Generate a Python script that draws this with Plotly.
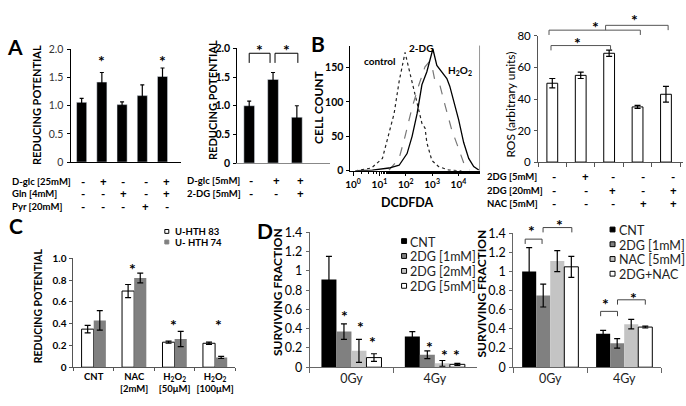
import plotly.graph_objects as go

W, H = 686, 406
FONT = "Lato"

# ---------------- DATA ----------------
# Panel A (left): reducing potential
a1_cats = ["Control", "D-glc", "Gln", "Pyr", "D-glc+Gln"]
a1_values = [1.06, 1.42, 1.02, 1.18, 1.52]
a1_errors = [0.07, 0.17, 0.05, 0.19, 0.15]
a1_rows = ["D-glc [25mM]", "Gln [4mM]", "Pyr [20mM]"]
a1_signs = [["-", "+", "-", "-", "+"],
            ["-", "-", "+", "-", "+"],
            ["-", "-", "-", "+", "-"]]

# Panel A (right)
a2_cats = ["Control", "D-glc", "D-glc+2-DG"]
a2_values = [1.00, 1.46, 0.80]
a2_errors = [0.08, 0.12, 0.20]
a2_rows = ["D-glc [5mM]", "2-DG [5mM]"]
a2_signs = [["-", "+", "+"],
            ["-", "-", "+"]]

# Panel B histogram (DCFDA intensity vs cell count)
ctrl_x = [1.2, 5, 13, 23, 36, 56, 87, 94, 132, 204, 316, 410, 540, 630, 980, 1780, 4300, 13000]
ctrl_y = [0, 4, 18, 53, 83, 130, 167, 172, 148, 118, 88, 69, 62, 41, 15, 6, 1, 0]
dg_x = [23, 56, 94, 174, 316, 537, 760, 980, 1260, 1950, 3020, 5500, 10200, 17000, 26300]
dg_y = [1, 18, 50, 92, 125, 151, 158, 153, 132, 125, 97, 60, 32, 8, 1]
h2o2_x = [1.5, 5.4, 23, 56, 112, 174, 269, 410, 631, 830, 1070, 1510, 2340, 3630, 4680,
          6610, 10200, 15800, 24500, 38000, 58900]
h2o2_y = [0, 1, 4, 8, 25, 50, 83, 125, 144, 160, 177, 153, 144, 134, 123,
          102, 74, 41, 18, 6, 1]
hist_ticks = [1, 10, 100, 1000, 10000]
hist_ticktext = ["10<sup>0</sup>", "10<sup>1</sup>", "10<sup>2</sup>", "10<sup>3</sup>", "10<sup>4</sup>"]

# Panel B bars: ROS
b_cats = ["Control", "2DG 5mM", "2DG 20mM", "NAC", "2DG 20mM+NAC"]
b_values = [50, 55, 69, 35, 43]
b_errors = [3, 2, 2, 1, 5]
b_rows = ["2DG [5mM]", "2DG [20mM]", "NAC [5mM]"]
b_signs = [["-", "+", "-", "-", "-"],
           ["-", "-", "+", "-", "+"],
           ["-", "-", "-", "+", "+"]]

# Panel C
c_cats = ["CNT", "NAC", "H2O2 50", "H2O2 100"]
c_ticktext = ["CNT", "NAC<br>[2mM]", "H<sub>2</sub>O<sub>2</sub><br>[50μM]", "H<sub>2</sub>O<sub>2</sub><br>[100μM]"]
c_hth83 = [0.35, 0.70, 0.23, 0.22]
c_hth83_err = [0.035, 0.06, 0.01, 0.01]
c_hth74 = [0.43, 0.82, 0.26, 0.09]
c_hth74_err = [0.09, 0.045, 0.07, 0.01]

# Panel D left
d_cats = ["0Gy", "4Gy"]
d1_names = ["CNT", "2DG [1mM]", "2DG [2mM]", "2DG [5mM]"]
d1_values = [[0.91, 0.32], [0.37, 0.13], [0.17, 0.04], [0.10, 0.03]]
d1_errors = [[0.24, 0.05], [0.08, 0.04], [0.12, 0.03], [0.04, 0.01]]

# Panel D right
d2_names = ["CNT", "2DG [1mM]", "NAC [5mM]", "2DG+NAC"]
d2_values = [[1.00, 0.35], [0.75, 0.25], [1.11, 0.45], [1.05, 0.42]]
d2_errors = [[0.25, 0.035], [0.12, 0.05], [0.11, 0.05], [0.11, 0.01]]

# ---------------- helpers ----------------
def fx(px):
    return px / W

def fy(py):
    return 1 - py / H

ann = []
shapes = []

def txt(x, y, s, size=11, bold=True, xa="center", ya="middle", angle=0, color="black"):
    ann.append(dict(x=fx(x), y=fy(y), xref="paper", yref="paper", text=("<b>%s</b>" % s) if bold else s,
                    showarrow=False, xanchor=xa, yanchor=ya, textangle=angle,
                    font=dict(family=FONT, size=size, color=color)))

def line(x0, y0, x1, y1, color="black", w=1):
    shapes.append(dict(type="line", xref="paper", yref="paper", x0=fx(x0), y0=fy(y0),
                       x1=fx(x1), y1=fy(y1), line=dict(color=color, width=w)))

def bracket(xl, xr, ytop, ybot, color="black"):
    line(xl, ybot, xl, ytop, color)
    line(xl, ytop, xr, ytop, color)
    line(xr, ytop, xr, ybot, color)

def square(cx, cy, s, fill, outline=None):
    shapes.append(dict(type="rect", xref="paper", yref="paper", x0=fx(cx - s / 2), x1=fx(cx + s / 2),
                       y0=fy(cy + s / 2), y1=fy(cy - s / 2), fillcolor=fill,
                       line=dict(color=outline if outline else fill, width=1)))

def star(x, y, size=16):
    txt(x, y + 4, "*", size=size, bold=True)

fig = go.Figure()

def err(arr, w=2.5):
    return dict(type="data", array=arr, color="black", thickness=1.2, width=w)

# ---------------- traces ----------------
fig.add_trace(go.Bar(x=a1_cats, y=a1_values, error_y=err(a1_errors, 2), marker_color="black",
                     width=0.5, xaxis="x", yaxis="y", showlegend=False))
fig.add_trace(go.Bar(x=a2_cats, y=a2_values, error_y=err(a2_errors, 2), marker_color="black",
                     width=0.45, xaxis="x2", yaxis="y2", showlegend=False))
fig.add_trace(go.Scatter(x=ctrl_x, y=ctrl_y, mode="lines", line=dict(color="#222", width=1.2, dash="dot"),
                         xaxis="x3", yaxis="y3", showlegend=False))
fig.add_trace(go.Scatter(x=dg_x, y=dg_y, mode="lines", line=dict(color="#777", width=1.2, dash="dash"),
                         xaxis="x3", yaxis="y3", showlegend=False))
fig.add_trace(go.Scatter(x=h2o2_x, y=h2o2_y, mode="lines", line=dict(color="black", width=1.3),
                         xaxis="x3", yaxis="y3", showlegend=False))
fig.add_trace(go.Bar(x=b_cats, y=b_values, error_y=err(b_errors, 3), marker=dict(color="white", line=dict(color="black", width=1)),
                     width=0.38, xaxis="x4", yaxis="y4", showlegend=False))
fig.add_trace(go.Bar(x=c_cats, y=c_hth83, error_y=err(c_hth83_err, 3), marker=dict(color="white", line=dict(color="black", width=1)),
                     width=0.3, offset=-0.3, xaxis="x5", yaxis="y5", showlegend=False, name="U-HTH 83"))
fig.add_trace(go.Bar(x=c_cats, y=c_hth74, error_y=err(c_hth74_err, 3), marker=dict(color="#808080", line=dict(width=0)),
                     width=0.3, offset=0.0, xaxis="x5", yaxis="y5", showlegend=False, name="U-HTH 74"))

d_colors = ["#000000", "#808080", "#c4c4c4", "#ffffff"]
d_lines = [0, 0, 0, 1]
for i in range(4):
    fig.add_trace(go.Bar(x=d_cats, y=d1_values[i], error_y=err(d1_errors[i], 3), name=d1_names[i],
                         marker=dict(color=d_colors[i], line=dict(color="black", width=d_lines[i])),
                         width=0.18, offset=-0.36 + 0.18 * i, xaxis="x6", yaxis="y6", showlegend=False))
for i in range(4):
    fig.add_trace(go.Bar(x=d_cats, y=d2_values[i], error_y=err(d2_errors[i], 3), name=d2_names[i],
                         marker=dict(color=d_colors[i], line=dict(color="black", width=d_lines[i])),
                         width=0.19, offset=-0.38 + 0.19 * i, xaxis="x7", yaxis="y7", showlegend=False))

# ---------------- axes ----------------
def xax(x0, x1, anchor, rng, **kw):
    d = dict(domain=[fx(x0), fx(x1)], anchor=anchor, range=rng, showgrid=False, zeroline=False,
             showline=True, linecolor="black", linewidth=1, showticklabels=False, ticks="", fixedrange=True)
    d.update(kw)
    return d

def yax(y0, y1, anchor, rng, tickvals, ticktext, size=10.5, bold=True, **kw):
    d = dict(domain=[fy(y0), fy(y1)], anchor=anchor, range=rng, showgrid=False, zeroline=False,
             showline=True, linecolor="black", linewidth=1, ticks="outside", ticklen=3, tickcolor="black",
             tickvals=tickvals, ticktext=[("<b>%s</b>" % t) if bold else t for t in ticktext],
             tickfont=dict(family=FONT, size=size, color="black"), ticklabelstandoff=1, fixedrange=True)
    d.update(kw)
    return d

layout_axes = dict(
    xaxis=xax(66, 177, "y", [-0.55, 4.9]),
    yaxis=yax(160, 43, "x", [0, 2.0], [0, 0.5, 1, 1.5, 2], ["0", "0.5", "1.0", "1.5", "2.0"], size=10.5, bold=False,
              tickfont=dict(family=FONT, size=10.5, color="#333")),
    xaxis2=xax(234, 327, "y2", [-0.5, 3.375], linecolor="#888"),
    yaxis2=yax(161, 42, "x2", [0, 2.0], [0, 0.5, 1, 1.5, 2], ["0", "0.5", "1.0", "1.5", "2.0"]),
    xaxis3=xax(348, 478, "y3", [-0.1, 4.8], type="log", showticklabels=True, ticks="outside", ticklen=4,
               tickvals=hist_ticks, ticktext=["<b>%s</b>" % t for t in hist_ticktext],
               tickfont=dict(family=FONT, size=10, color="black"), tickcolor="black",
               minor=dict(ticks="outside", ticklen=2, tickcolor="black", showgrid=False)),
    yaxis3=yax(169, 39, "x3", [0, 182], [0, 50, 100, 150], ["0", "50", "100", "150"]),
    xaxis4=xax(537, 683, "y4", [-0.5, 4.6], ticks="outside", ticklen=4, tickson="boundaries", tickcolor="#555", linecolor="#555"),
    yaxis4=yax(160, 29, "x4", [0, 80], [0, 20, 40, 60, 80], ["0", "20", "40", "60", "80"], size=11.5, bold=False,
               linecolor="#555", tickcolor="#555"),
    xaxis5=xax(69, 232, "y5", [-0.5, 3.5], showticklabels=True, tickvals=c_cats, tickangle=0,
               ticktext=["<b>%s</b>" % t for t in c_ticktext], ticks="outside", ticklen=3, tickson="boundaries",
               tickfont=dict(family=FONT, size=9.5, color="black"), linecolor="#555", tickcolor="#555"),
    yaxis5=yax(373, 260, "x5", [0, 1.0], [0, 0.2, 0.4, 0.6, 0.8, 1.0], ["0", "0.2", "0.4", "0.6", "0.8", "1.0"], size=10,
               linecolor="#555", tickcolor="#555"),
    xaxis6=xax(307, 475, "y6", [-0.5, 1.5], showticklabels=True, ticks="outside", ticklen=5, tickson="boundaries",
               tickangle=0, tickfont=dict(family=FONT, size=12.5, color="#222"), linecolor="#666", tickcolor="#666"),
    yaxis6=yax(373, 233, "x6", [0, 1.4], [0, 0.2, 0.4, 0.6, 0.8, 1.0, 1.2, 1.4],
               ["0", "0.2", "0.4", "0.6", "0.8", "1", "1.2", "1.4"], size=12.5, bold=False, linecolor="#666", tickcolor="#666"),
    xaxis7=xax(512, 661, "y7", [-0.5, 1.5], showticklabels=True, ticks="outside", ticklen=5, tickson="boundaries",
               tickangle=0, tickfont=dict(family=FONT, size=12.5, color="#222"), linecolor="#666", tickcolor="#666"),
    yaxis7=yax(373, 234, "x7", [0, 1.4], [0, 0.2, 0.4, 0.6, 0.8, 1.0, 1.2, 1.4],
               ["0", "0.2", "0.4", "0.6", "0.8", "1", "1.2", "1.4"], size=12.5, bold=False, linecolor="#666", tickcolor="#666"),
)

# ---------------- annotations ----------------
# panel letters
txt(10, 40, "A", size=21)
txt(315, 37, "B", size=21)
txt(11, 226, "C", size=21)
txt(262, 231, "D", size=21)

# axis titles
txt(32, 101, "REDUCING POTENTIAL", size=11, angle=-90)
txt(209, 95, "REDUCING POTENTIAL", size=11, angle=-90)
txt(315, 103, "CELL COUNT", size=12, angle=-90)
txt(405, 202, "DCDFDA", size=12.5)
txt(509, 100, "ROS (arbitrary units)", size=12, bold=False, angle=-90)
txt(33, 309, "REDUCING POTENTIAL", size=10.5, angle=-90)
txt(274, 295, "SURVIVING FRACTION", size=12, angle=-90)
txt(480, 297, "SURVIVING FRACTION", size=12, angle=-90)

# A rows
a1_sx = [79, 99, 119, 142, 163]
for r, (lab, yy) in enumerate(zip(a1_rows, [180, 193, 206])):
    txt(5, yy, lab, size=9.5, xa="left")
    for s, xx in zip(a1_signs[r], a1_sx):
        txt(xx, yy, s, size=11.5)
a2_sx = [248, 273, 298]
for r, (lab, yy) in enumerate(zip(a2_rows, [179, 193])):
    txt(181, yy, lab, size=9.5, xa="left")
    for s, xx in zip(a2_signs[r], a2_sx):
        txt(xx, yy, s, size=11.5)
b_sx = [553, 585, 612, 643, 673]
for r, (lab, yy) in enumerate(zip(b_rows, [175, 189, 203])):
    txt(484, yy, lab, size=9.5, xa="left")
    for s, xx in zip(b_signs[r], b_sx):
        txt(xx, yy, s, size=11.5)

# asterisks A
star(97, 51)
star(159, 51)
# A2 brackets
bracket(246, 267, 47, 57)
bracket(272, 295, 47, 57)
star(256, 39)
star(284, 39)

# histogram labels
txt(378, 55, "control", size=10)
txt(419, 42, "2-DG", size=10)
txt(458, 65, "H<sub>2</sub>O<sub>2</sub>", size=10)
line(478, 39, 478, 169, color="#999")

# B bar brackets
bracket(550, 610, 39, 44, color="#555")
bracket(548, 640, 23, 28, color="#555")
bracket(605, 668, 18, 23, color="#555")
star(577, 32)
star(595, 15)
star(634, 8)

# C legend + stars
square(163, 232, 4, "white", "black")
txt(169, 232, "U-HTH 83", size=9.5, xa="left")
square(163, 243, 4, "#808080")
txt(169, 243, "U- HTH 74", size=9.5, xa="left")
star(128, 267)
star(170, 325)
star(215, 325)

# D left legend + stars
for i, nm in enumerate(d1_names):
    yy = 243 + 15.5 * i
    square(402, yy - 1, 5, d_colors[i], "black")
    txt(406, yy, nm, size=12.5, bold=False, xa="left", color="#222")
star(342, 315)
star(358, 327)
star(370, 342)
star(428, 348)
star(443, 356)
star(455, 356)

# D right legend + brackets + stars
for i, nm in enumerate(d2_names):
    yy = 231 + 15.3 * i
    square(612, yy - 1, 5, d_colors[i], "black")
    txt(616, yy, nm, size=12.5, bold=False, xa="left", color="#222")
bracket(524, 541, 240, 245, color="#444")
bracket(542, 571, 228, 233, color="#444")
bracket(600, 617, 315, 320, color="#444")
bracket(617, 645, 303, 308, color="#444")
star(530, 227)
star(559, 221)
star(605, 303)
star(633, 297)

fig.update_layout(
    width=W, height=H, margin=dict(l=0, r=0, t=0, b=0),
    paper_bgcolor="white", plot_bgcolor="white",
    barmode="overlay", font=dict(family=FONT, color="black"),
    annotations=ann, shapes=shapes, showlegend=False,
    **layout_axes
)

fig.write_html("out.html", config={"displayModeBar": False},
               post_script="document.body.style.margin='0px'; document.body.style.overflow='hidden';")
